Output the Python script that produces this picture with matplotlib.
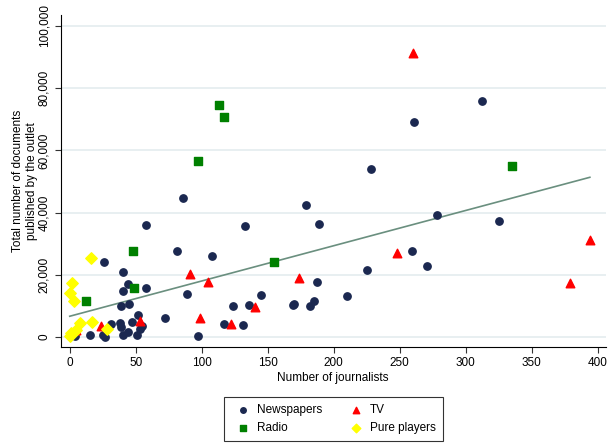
import matplotlib
matplotlib.use('Agg')
import matplotlib.pyplot as plt
import numpy as np

plt.rcParams['font.family'] = ['Liberation Sans', 'DejaVu Sans']

# journalists / documents published, by outlet type
news_j = [312, 261, 228, 86, 179, 278, 325, 58, 133, 189, 81, 108, 259, 26, 271,
          225, 40, 44, 58, 40, 89, 187, 145, 210, 185, 169, 170, 182, 124, 136,
          39, 45, 72, 52, 117, 131, 31, 38, 39, 47, 55, 53, 44, 51, 4, 15, 25,
          27, 40, 97]
news_d = [75900, 69000, 54000, 44600, 42500, 39100, 37300, 35900, 35800, 36200,
          27500, 25900, 27500, 24000, 22900, 21400, 20800, 16900, 15700, 14800,
          13800, 17800, 13500, 13200, 11600, 10400, 10700, 10000, 10000, 10400,
          10000, 10500, 6000, 7000, 4100, 4000, 4300, 4400, 3200, 4900, 3500,
          2500, 1600, 700, 300, 500, 500, 100, 500, 400]

radio_j = [113, 117, 97, 48, 49, 12, 155, 335]
radio_d = [74500, 70600, 56600, 27600, 15800, 11700, 24100, 55000]

tv_j = [260, 91, 105, 174, 248, 394, 379, 140, 99, 122, 53, 24, 5]
tv_d = [91200, 20200, 17700, 18900, 27100, 31200, 17500, 9800, 6000, 4300,
        5100, 3500, 2200]

pure_j = [16, 2, 0, 3, 8, 17, 28, 5, 1, 0]
pure_d = [25500, 17300, 14000, 11500, 4600, 4800, 2500, 2200, 1200, 200]

yticks = [0, 20000, 40000, 60000, 80000, 100000]
xticks = [0, 50, 100, 150, 200, 250, 300, 350, 400]

fig = plt.figure(figsize=(6.08, 4.44), dpi=100)
ax = fig.add_axes([60.5 / 608, 1 - 347 / 444, 545.2 / 608, 332 / 444])

ax.scatter(news_j, news_d, s=28, marker='o', color='#1b2850', zorder=3, label='Newspapers')
ax.scatter(radio_j, radio_d, s=28, marker='s', color='#008000', zorder=3, label='Radio')
ax.scatter(tv_j, tv_d, s=38, marker='^', color='#ff0000', zorder=3, label='TV')
ax.scatter(pure_j, pure_d, s=34, marker='D', color='#ffff00', zorder=4, label='Pure players')

# linear fit over all outlets
all_j = np.array(news_j + radio_j + tv_j + pure_j, dtype=float)
all_d = np.array(news_d + radio_d + tv_d + pure_d, dtype=float)
b, a = np.polyfit(all_j, all_d, 1)
xs = np.array([all_j.min(), all_j.max()])
ax.plot(xs, a + b * xs, color='#6a8f7f', lw=1.2, zorder=2)

ax.set_xlim(-7, 406)
ax.set_ylim(-3200, 103500)
ax.set_xticks(xticks)
ax.set_yticks(yticks)
ax.set_yticklabels(['{:,}'.format(v) for v in yticks], rotation=90, va='center')
ax.tick_params(labelsize=8.5, length=4, width=0.8, color='#333333')
ax.grid(axis='y', color='#e6eef0', lw=1.3, zorder=0)
ax.set_axisbelow(True)
for s in ['top', 'right']:
    ax.spines[s].set_visible(False)
ax.spines['left'].set_linewidth(0.8)
ax.spines['bottom'].set_linewidth(0.8)

ax.set_xlabel('Number of journalists', fontsize=8.5, labelpad=2)
ax.set_ylabel('Total number of documents\npublished by the outlet', fontsize=8.5)
ax.yaxis.set_label_coords(-0.041, 0.5)

leg = fig.legend(loc='center', bbox_to_anchor=(333.5 / 608, 1 - 419 / 444), ncol=2,
                 fontsize=8.5, frameon=True, fancybox=False, edgecolor='black',
                 handletextpad=0.2, columnspacing=1.8, markerscale=0.75,
                 borderpad=0.6, labelspacing=0.5)
leg.get_frame().set_linewidth(0.8)

fig.savefig('out.png', dpi=100)
